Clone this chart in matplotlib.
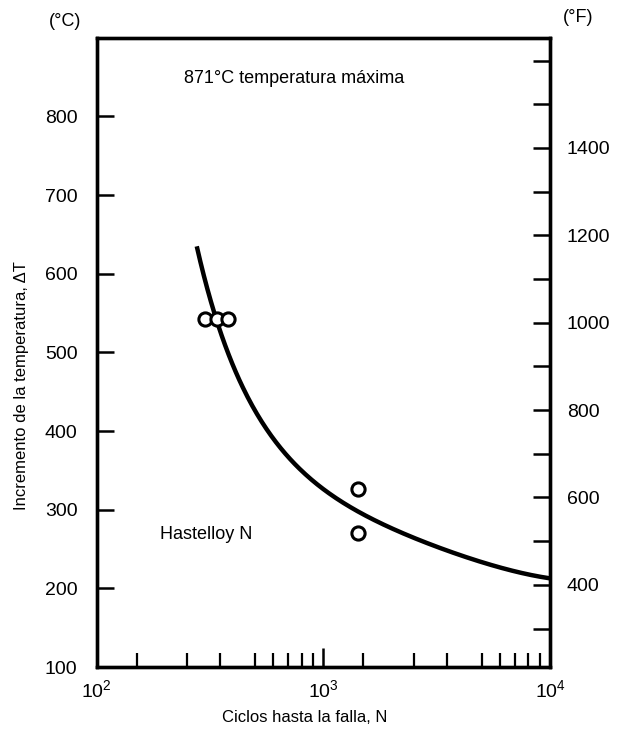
import numpy as np
import matplotlib
matplotlib.use("Agg")
import matplotlib.pyplot as plt
from matplotlib.ticker import FixedLocator, NullFormatter, LogFormatterMathtext

plt.rcParams['font.family'] = ['Liberation Sans', 'DejaVu Sans']

# curve: cycles to failure vs temperature rise (deg C)
curve_n = [276, 321, 421, 649, 904, 1352, 1556, 2328, 3846, 6357, 10000]
curve_t = [642, 553, 468, 379, 337, 303, 290, 268, 242, 227, 212]

# test points (open circles)
pts_n = [299, 338, 381, 1422, 1422]
pts_t = [543, 543, 543, 326, 271]

x_minor = [1.5, 2.5, 3.5, 5, 6, 7, 8, 9]
c_ticks = [100, 200, 300, 400, 500, 600, 700, 800]
f_major = [400, 600, 800, 1000, 1200, 1400]
f_minor = [300, 500, 700, 900, 1100, 1300, 1500, 1600]

fig = plt.figure(figsize=(6.33, 7.35), dpi=100)
ax = fig.add_axes([0.153, 0.0925, 0.716, 0.856])

# smooth the hand-read curve (log-log fit)
lx = np.log10(curve_n)
ly = np.log10(curve_t)
xs = np.linspace(lx[0], lx[-1], 300)
coef = np.polyfit(lx, ly, 4)
ax.plot(10**xs, 10**np.polyval(coef, xs), color='black', lw=3.2, solid_capstyle='butt')
ax.plot(pts_n, pts_t, 'o', ms=9.5, mfc='white', mec='black', mew=2.2, zorder=3)

ax.set_xscale('log')
ax.set_xlim(100, 10000)
ax.set_ylim(100, 900)

ax.xaxis.set_major_locator(FixedLocator([100, 1000, 10000]))
ax.xaxis.set_major_formatter(LogFormatterMathtext())
ax.xaxis.set_minor_locator(FixedLocator([m * d for d in (100, 1000) for m in x_minor]))
ax.xaxis.set_minor_formatter(NullFormatter())
ax.set_yticks(c_ticks)

for s in ax.spines.values():
    s.set_linewidth(2.4)

ax.tick_params(axis='x', which='major', direction='in', length=14, width=1.8,
               labelsize=14, pad=9, top=False)
ax.tick_params(axis='x', which='minor', direction='in', length=10, width=1.6, top=False)
ax.tick_params(axis='y', which='major', direction='in', length=12, width=1.8,
               labelsize=14, pad=14, right=False)

# right axis in Fahrenheit
ax2 = ax.twinx()
ax2.set_ylim(100 * 1.8 + 32, 900 * 1.8 + 32)
ax2.set_yticks(f_major)
ax2.set_yticks(f_minor, minor=True)
ax2.tick_params(axis='y', which='major', direction='in', length=12, width=1.8,
                labelsize=14, pad=12)
ax2.tick_params(axis='y', which='minor', direction='in', length=12, width=1.8)
for s in ax2.spines.values():
    s.set_linewidth(2.4)

ax.text(0.193, 0.935, '871°C temperatura máxima', transform=ax.transAxes,
        fontsize=13, va='center', ha='left')
ax.text(0.139, 0.21, 'Hastelloy N', transform=ax.transAxes,
        fontsize=13, va='center', ha='left')

fig.text(65 / 633, 1 - 22 / 735, '(°C)', fontsize=13, ha='center', va='center')
fig.text(578 / 633, 1 - 18 / 735, '(°F)', fontsize=13, ha='center', va='center')

fig.text(22 / 633, 1 - 386 / 735, 'Incremento de la temperatura, ΔT', fontsize=12,
         rotation=90, ha='center', va='center')
fig.text(305 / 633, 1 - 718 / 735, 'Ciclos hasta la falla, N', fontsize=12,
         ha='center', va='center')

fig.savefig('out.png', dpi=100)
